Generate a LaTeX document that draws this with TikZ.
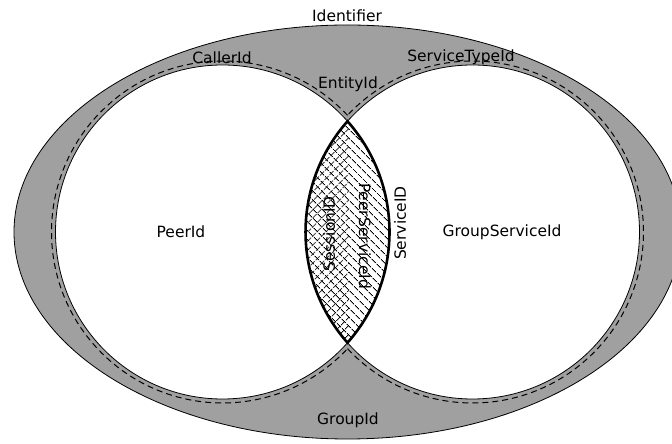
\documentclass[tikz,border=0pt]{standalone}
\usepackage{fontspec}
\setmainfont{DejaVu Sans}
\usetikzlibrary{patterns.meta}
\definecolor{bandgray}{RGB}{160,160,160}
\begin{document}
\begin{tikzpicture}[x=1pt,y=1pt,
  lbl/.style={inner sep=0pt,font=\fontsize{15.5}{18}\selectfont},
  thin line/.style={draw=black,line width=0.8pt},
  guide/.style={draw=black,line width=1pt,dash pattern=on 6pt off 4pt},
  hatch/.style={pattern={Lines[angle=#1,distance=6.5pt,line width=1pt]}}]
\useasboundingbox (0,0) rectangle (672,444);
% centres and radii
\coordinate (O) at (347.5,212);
\coordinate (L) at (222.5,212);
\coordinate (R) at (472.5,212);
\def\rad{167}
\def\drad{171}
% outer identifier band
\fill[bandgray] (O) ellipse[x radius=333.5,y radius=207];
\draw[thin line] (O) ellipse[x radius=333.5,y radius=207];
% dashed outlines around the union of the two circles
\draw[guide] (L) ++(43.03:\drad) arc[start angle=43.03,end angle=316.97,radius=\drad];
\draw[guide] (R) ++(-136.97:\drad) arc[start angle=-136.97,end angle=136.97,radius=\drad];
% the two circles
\fill[white] (L) circle[radius=\rad];
\fill[white] (R) circle[radius=\rad];
% lens of the intersection
\path[hatch=-45]
  (L) ++(41.53:\rad) arc[start angle=41.53,end angle=-41.53,radius=\rad]
  arc[start angle=221.53,end angle=138.47,radius=\rad] -- cycle;
\begin{scope}
  \clip (300,0) rectangle (349,444);
  \path[hatch=45]
    (L) ++(41.53:\rad) arc[start angle=41.53,end angle=-41.53,radius=\rad]
    arc[start angle=221.53,end angle=138.47,radius=\rad] -- cycle;
\end{scope}
\draw[thin line] (L) circle[radius=\rad];
\draw[thin line] (R) circle[radius=\rad];
\draw[line width=2.6pt,line join=miter]
  (L) ++(41.53:\rad) arc[start angle=41.53,end angle=-41.53,radius=\rad]
  arc[start angle=221.53,end angle=138.47,radius=\rad] -- cycle;
% labels
\node[lbl] (identifier) at (347,428) {Identifier};
\node[lbl] (caller) at (222,386) {CallerId};
\node[lbl] (servicetype) at (461,387) {ServiceTypeId};
\node[lbl] (entity) at (348,360) {EntityId};
\node[lbl] (peer) at (181,212) {PeerId};
\node[lbl] (groupservice) at (502,212) {GroupServiceId};
\node[lbl] (group) at (348,24) {GroupId};
\node[lbl,rotate=90] (session) at (329,210) {SessionID};
\node[lbl,rotate=-90] (peerservice) at (365,208) {PeerServiceId};
\node[lbl,rotate=90] (service) at (400,221) {ServiceID};
\end{tikzpicture}
\end{document}
